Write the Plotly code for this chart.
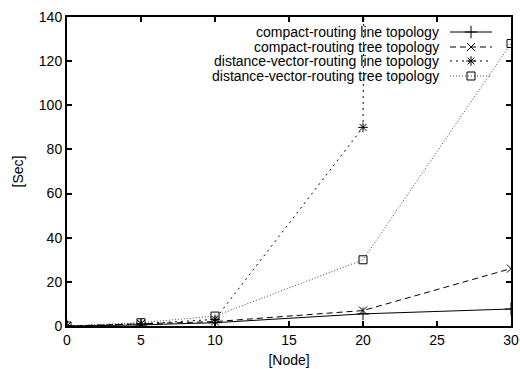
import plotly.graph_objects as go

nodes = [0, 5, 10, 20, 30]
compact_line = [0, 0.5, 1.5, 5.5, 7.7]
compact_tree = [0, 1, 2, 7, 26]
dv_line = [0, 1, 3, 90, 10000]   # last value far above the chart (clipped)
dv_tree = [0, 1.5, 4.5, 30, 128]

names = ["compact-routing line topology", "compact-routing tree topology",
         "distance-vector-routing line topology", "distance-vector-routing tree topology"]
series = [compact_line, compact_tree, dv_line, dv_tree]
dashes = ["solid", "6px,4px", "2px,4px", "1px,2px"]
colors = ["black", "black", "black", "#444"]
symbols = ["cross-thin-open", "x-thin-open", "asterisk-open", "square-open"]
msizes = [9, 8, 8, 8]

W, H = 520, 369
L, R, T, B = 67, 511, 17, 326
XMAX, YMAX = 30, 140
FONT = "Liberation Sans, Arial, sans-serif"


def px_to_data(px, py):
    return (px - L) / (R - L) * XMAX, (B - py) / (B - T) * YMAX


fig = go.Figure()
for ys, dash, col, sym, ms, nm in zip(series, dashes, colors, symbols, msizes, names):
    fig.add_trace(go.Scatter(
        x=nodes, y=ys, mode="lines+markers", name=nm, showlegend=False,
        line=dict(color=col, width=1, dash=dash),
        marker=dict(symbol=sym, size=ms, color="black", line=dict(width=1, color="black")),
    ))

# custom gnuplot-style legend (text right-aligned, sample on the right)
rows = [32, 47, 61, 76]
for nm, dash, col, sym, ms, yp in zip(names, dashes, colors, symbols, msizes, rows):
    tx, ty = px_to_data(441, yp)
    fig.add_annotation(x=tx, y=ty, xref="x", yref="y",
                       text=nm, showarrow=False, xanchor="right", yanchor="middle",
                       font=dict(size=14, color="black", family=FONT))
    xs = [px_to_data(p, yp)[0] for p in (450, 471, 492)]
    fig.add_trace(go.Scatter(
        x=xs, y=[ty] * 3, mode="lines+markers", showlegend=False, hoverinfo="skip",
        line=dict(color=col, width=1, dash=dash),
        marker=dict(symbol=sym, size=ms, color="black", line=dict(width=1, color="black"),
                    opacity=[0, 1, 0]),
    ))

axis_common = dict(showline=True, linecolor="black", linewidth=2, mirror="ticks",
                   ticks="inside", ticklen=5, tickwidth=2, tickcolor="black",
                   showgrid=False, zeroline=False, automargin=False,
                   tickfont=dict(size=14, color="black", family=FONT))

fig.update_layout(
    width=W, height=H,
    margin=dict(l=L, r=W - R, t=T, b=H - B),
    paper_bgcolor="white", plot_bgcolor="white",
    xaxis=dict(range=[0, XMAX], tickvals=[0, 5, 10, 15, 20, 25, 30],
               title=dict(text="[Node]", standoff=8, font=dict(size=14, color="black", family=FONT)),
               **axis_common),
    yaxis=dict(range=[0, YMAX], tickvals=list(range(0, 141, 20)),
               title=dict(text="[Sec]", standoff=12, font=dict(size=14, color="black", family=FONT)),
               **axis_common),
)

fig.write_html("out.html", config={"displayModeBar": False},
               post_script="document.body.style.margin='0';document.body.style.overflow='hidden';")
